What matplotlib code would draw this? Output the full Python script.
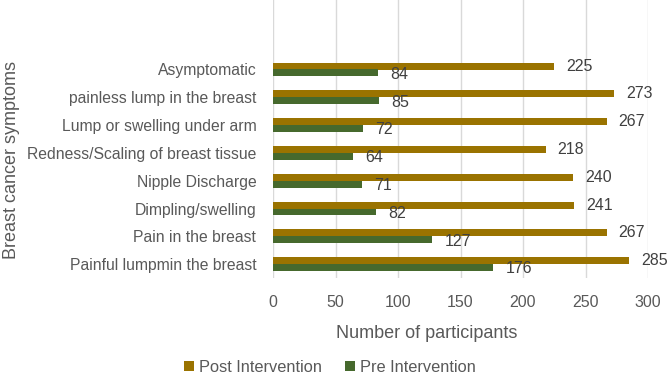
import matplotlib
matplotlib.use("Agg")
import matplotlib.pyplot as plt
import numpy as np

categories = ["Painful lumpmin the breast", "Pain in the breast", "Dimpling/swelling",
              "Nipple Discharge", "Redness/Scaling of breast tissue",
              "Lump or swelling under arm", "painless lump in the breast", "Asymptomatic"]
post_values = [285, 267, 241, 240, 218, 267, 273, 225]
pre_values = [176, 127, 82, 71, 64, 72, 85, 84]
x_ticks = [0, 50, 100, 150, 200, 250, 300]

plt.rcParams['font.family'] = ['Liberation Sans', 'DejaVu Sans']
gray = "#595959"
post_color = "#9A7300"
pre_color = "#46692D"

fig = plt.figure(figsize=(6.69, 3.76), dpi=100)
ax = fig.add_axes([273/669, 1 - 278/376, 375/669, 278/376])

y = np.arange(len(categories))
h = 0.25
bp = ax.barh(y + h/2, post_values, height=h, color=post_color, label="Post Intervention", zorder=3)
bq = ax.barh(y - h/2, pre_values, height=h, color=pre_color, label="Pre Intervention", zorder=3)

for yi, v in zip(y, post_values):
    ax.annotate(str(v), (v, yi + h/2), xytext=(8.5, 0), textcoords="offset points",
                va="center", ha="left", fontsize=11.5, color="#404040")
for yi, v in zip(y, pre_values):
    ax.annotate(str(v), (v, yi - h/2), xytext=(9, -1), textcoords="offset points",
                va="center", ha="left", fontsize=11.5, color="#404040")

ax.set_xlim(0, 300)
ax.set_ylim(-0.5, 9.5)
ax.set_xticks(x_ticks)
ax.set_xticklabels([str(t) for t in x_ticks], fontsize=11.5, color=gray)
ax.set_yticks(y)
ax.set_yticklabels(categories, fontsize=11.3, color=gray)
ax.tick_params(axis='x', length=0, pad=12)
ax.tick_params(axis='y', length=0, pad=12)
ax.grid(axis='x', color="#D9D9D9", linewidth=1, zorder=0)
for s in ax.spines.values():
    s.set_visible(False)

fig.text(427/669, 1 - 334/376, "Number of participants", ha="center", va="center",
         fontsize=13, color=gray)
fig.text(12/669, 1 - 160/376, "Breast cancer symptoms", ha="center", va="center",
         rotation=90, fontsize=13, color=gray)

fig.legend(handles=[bp, bq], labels=["Post Intervention", "Pre Intervention"],
           loc="center", bbox_to_anchor=(330/669, 1 - 367/376), ncol=2, frameon=False,
           fontsize=11.8, labelcolor=gray, handlelength=0.6, handleheight=0.6,
           handletextpad=0.3, columnspacing=1.4)

fig.savefig("out.png", dpi=100)
